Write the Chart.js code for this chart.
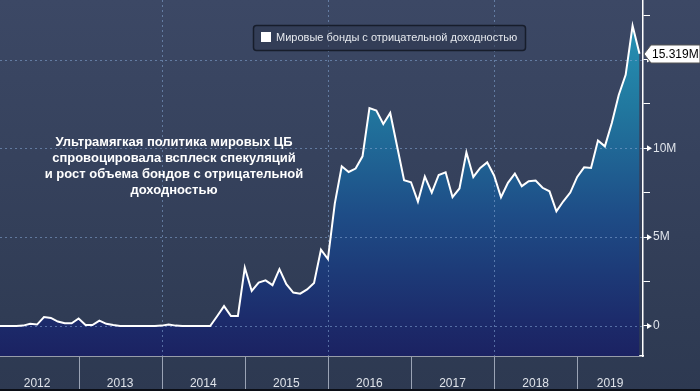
<!DOCTYPE html>
<html><head><meta charset="utf-8">
<script src="https://cdn.jsdelivr.net/npm/chart.js@4"></script>
<style>html,body{margin:0;padding:0;background:#333f58;overflow:hidden}canvas{display:block}</style>
</head><body>
<canvas id="c" width="700" height="391"></canvas>
<script>
// ---- data (month-end observations) ----
const months = [
  '2011-12',
  '2012-01','2012-02','2012-03','2012-04','2012-05','2012-06','2012-07','2012-08','2012-09','2012-10','2012-11','2012-12',
  '2013-01','2013-02','2013-03','2013-04','2013-05','2013-06','2013-07','2013-08','2013-09','2013-10','2013-11','2013-12',
  '2014-01','2014-02','2014-03','2014-04','2014-05','2014-06','2014-07','2014-08','2014-09','2014-10','2014-11','2014-12',
  '2015-01','2015-02','2015-03','2015-04','2015-05','2015-06','2015-07','2015-08','2015-09','2015-10','2015-11','2015-12',
  '2016-01','2016-02','2016-03','2016-04','2016-05','2016-06','2016-07','2016-08','2016-09','2016-10','2016-11','2016-12',
  '2017-01','2017-02','2017-03','2017-04','2017-05','2017-06','2017-07','2017-08','2017-09','2017-10','2017-11','2017-12',
  '2018-01','2018-02','2018-03','2018-04','2018-05','2018-06','2018-07','2018-08','2018-09','2018-10','2018-11','2018-12',
  '2019-01','2019-02','2019-03','2019-04','2019-05','2019-06','2019-07','2019-08','2019-09'
];
const negYieldBonds = [
  0,
  0, 0, 0, 0.02, 0.12, 0.08, 0.5, 0.45, 0.25, 0.15, 0.15, 0.42,
  0.05, 0.05, 0.3, 0.12, 0.05, 0, 0, 0, 0, 0, 0, 0.02,
  0.08, 0.02, 0, 0, 0, 0, 0, 0.55, 1.12, 0.56, 0.56, 3.28,
  1.97, 2.44, 2.57, 2.3, 3.2, 2.35, 1.88, 1.82, 2.06, 2.42, 4.3, 3.77,
  6.9, 8.99, 8.67, 8.86, 9.55, 12.27, 12.13, 11.37, 11.99, 10.1, 8.2, 8.09,
  7.0, 8.41, 7.51, 8.5, 8.65, 7.25, 7.74, 9.78, 8.39, 8.9, 9.21, 8.47,
  7.25, 8.06, 8.58, 7.87, 8.15, 8.19, 7.78, 7.58, 6.45, 7.02, 7.51, 8.39,
  8.93, 8.9, 10.44, 10.11, 11.43, 13.0, 14.14, 16.9, 15.319
];
const yearLabels = ['2012','2013','2014','2015','2016','2017','2018','2019'];
const yTickValues = [0, 2.5, 5, 7.5, 10, 12.5, 15, 17.5];
const yLabelledTicks = [0, 5, 10, 15];
const seriesLabel = 'Мировые бонды с отрицательной доходностью';
const noteLines = [
  'Ультрамягкая политика мировых ЦБ',
  'спровоцировала всплеск спекуляций',
  'и рост объема бондов с отрицательной',
  'доходностью'
];

// ---- layout / style ----
const X_MIN = 2012.054, X_MAX = 2019.792;
const Y_MIN = -1.69, Y_MAX = 18.35;
const FONT = '"Liberation Sans", Arial, sans-serif';
const TEXT_COL = '#dfe3ea';

const toX = m => { const p = m.split('-').map(Number); return p[0] + p[1] / 12; };
const points = months.map((m, i) => ({ x: toX(m), y: negYieldBonds[i] }));
const yearTickPos = yearLabels.map((y, i) => {
  const s = Number(y);
  return i === yearLabels.length - 1 ? (s + X_MAX) / 2 : s + 0.5;
});

function fillGradient(ctx) {
  const chart = ctx.chart, a = chart.chartArea;
  if (!a) return 'rgba(0,0,0,0)';
  const g = chart.ctx.createLinearGradient(0, a.top, 0, a.bottom);
  g.addColorStop(0, '#2899ba');
  g.addColorStop(0.3, '#21789f');
  g.addColorStop(0.6, '#1e4d87');
  g.addColorStop(0.9, '#1c2b6b');
  g.addColorStop(1, '#1b2262');
  return g;
}

const overlay = {
  id: 'overlay',
  beforeDraw(chart) {
    const c = chart.ctx, W = chart.width, H = chart.height;
    const g = c.createLinearGradient(0, 0, 0, H);
    g.addColorStop(0, '#3c4865');
    g.addColorStop(1, '#2d3951');
    c.save(); c.fillStyle = g; c.fillRect(0, 0, W, H); c.restore();
  },
  afterDatasetDraw(chart, args) {
    if (args.index !== 0) return;
    const c = chart.ctx, a = chart.chartArea;
    const xs = chart.scales.x, ys = chart.scales.y;
    c.save();
    c.strokeStyle = 'rgba(135,170,215,0.55)';
    c.lineWidth = 1;
    c.setLineDash([2, 3]);
    yLabelledTicks.forEach(v => {
      const py = Math.round(ys.getPixelForValue(v)) + 0.5;
      c.beginPath(); c.moveTo(a.left, py); c.lineTo(a.right, py); c.stroke();
    });
    yearLabels.map(Number).filter(y => y % 2 === 0 && y > X_MIN).forEach(y => {
      const px = Math.round(xs.getPixelForValue(y)) + 0.5;
      c.beginPath(); c.moveTo(px, a.top); c.lineTo(px, a.bottom); c.stroke();
    });
    c.restore();
  },
  afterDraw(chart) {
    const c = chart.ctx, a = chart.chartArea, H = chart.height;
    const xs = chart.scales.x, ys = chart.scales.y;
    c.save();
    // year separators under the axis
    c.strokeStyle = '#9aa3b5'; c.lineWidth = 1;
    yearLabels.map(Number).forEach(y => {
      const px = Math.round(xs.getPixelForValue(y)) + 0.5;
      if (px < a.left || px > a.right) return;
      c.beginPath(); c.moveTo(px, a.bottom + 1); c.lineTo(px, H); c.stroke();
    });
    // arrow heads on labelled y ticks
    c.fillStyle = '#ffffff';
    yLabelledTicks.forEach(v => {
      const py = ys.getPixelForValue(v);
      c.beginPath(); c.moveTo(a.right + 4, py - 3); c.lineTo(a.right + 9, py); c.lineTo(a.right + 4, py + 3); c.closePath(); c.fill();
    });
    // legend
    const lx = 253.5, ly = 25.5, lw = 272, lh = 25, r = 3;
    c.beginPath();
    c.moveTo(lx + r, ly); c.lineTo(lx + lw - r, ly); c.arcTo(lx + lw, ly, lx + lw, ly + r, r);
    c.lineTo(lx + lw, ly + lh - r); c.arcTo(lx + lw, ly + lh, lx + lw - r, ly + lh, r);
    c.lineTo(lx + r, ly + lh); c.arcTo(lx, ly + lh, lx, ly + lh - r, r);
    c.lineTo(lx, ly + r); c.arcTo(lx, ly, lx + r, ly, r); c.closePath();
    c.fillStyle = 'rgba(45,55,78,0.55)'; c.fill();
    c.strokeStyle = '#171d2b'; c.lineWidth = 1.5; c.stroke();
    c.fillStyle = '#ffffff'; c.fillRect(261, 32, 10, 10);
    c.fillStyle = '#e6e9ee'; c.font = '11px ' + FONT; c.textBaseline = 'middle'; c.textAlign = 'left';
    c.fillText(seriesLabel, 276, 38);
    // note
    c.fillStyle = '#ffffff'; c.font = 'bold 13px ' + FONT; c.textAlign = 'center';
    noteLines.forEach((t, i) => c.fillText(t, 174, 142 + i * 16));
    // last value label
    const last = negYieldBonds[negYieldBonds.length - 1];
    const py = Math.round(ys.getPixelForValue(last));
    const bx = a.right + 8;
    c.beginPath();
    c.moveTo(a.right + 1, py); c.lineTo(bx, py - 9); c.lineTo(chart.width, py - 9);
    c.lineTo(chart.width, py + 9); c.lineTo(bx, py + 9); c.closePath();
    c.fillStyle = '#ffffff'; c.fill();
    c.strokeStyle = '#555'; c.lineWidth = 1; c.stroke();
    c.fillStyle = '#000000'; c.font = '12px ' + FONT; c.textAlign = 'left';
    c.fillText(last.toFixed(3) + 'M', bx + 1, py + 1);
    // bottom dark strip
    c.fillStyle = '#0b0e16'; c.fillRect(0, H - 2, chart.width, 2);
    c.restore();
  }
};

new Chart(document.getElementById('c'), {
  type: 'line',
  data: {
    datasets: [
      { label: seriesLabel, data: points, borderWidth: 0, pointRadius: 0, fill: 'start',
        backgroundColor: fillGradient, tension: 0, order: 2 },
      { label: seriesLabel, data: points, borderColor: '#ffffff', borderWidth: 2, pointRadius: 0,
        fill: false, tension: 0, borderJoinStyle: 'miter', order: 1 }
    ]
  },
  options: {
    responsive: false, animation: false, devicePixelRatio: 1,
    layout: { padding: 0 },
    plugins: { legend: { display: false }, tooltip: { enabled: false } },
    scales: {
      x: {
        type: 'linear', min: X_MIN, max: X_MAX,
        afterBuildTicks: s => { s.ticks = yearTickPos.map(v => ({ value: v })); },
        afterFit: s => { s.height = 35; s.paddingLeft = 0; s.paddingRight = 0; },
        grid: { display: false },
        border: { display: true, color: '#ffffff', width: 1.5 },
        ticks: {
          autoSkip: false, maxRotation: 0, padding: 12, color: TEXT_COL,
          font: { family: FONT, size: 12 },
          callback: (v, i) => yearLabels[i]
        }
      },
      y: {
        type: 'linear', position: 'right', min: Y_MIN, max: Y_MAX,
        afterBuildTicks: s => { s.ticks = yTickValues.map(v => ({ value: v })); },
        afterFit: s => { s.width = 57; s.paddingTop = 0; s.paddingBottom = 0; },
        grid: { display: true, drawOnChartArea: false, drawTicks: true, tickLength: 7,
                tickColor: '#ffffff', tickWidth: 1, color: 'rgba(0,0,0,0)' },
        border: { display: true, color: '#ffffff', width: 1.5 },
        ticks: {
          padding: 3, color: TEXT_COL, font: { family: FONT, size: 12 },
          callback: v => yLabelledTicks.includes(v) ? (v === 0 ? '0' : v + 'M') : ''
        }
      }
    }
  },
  plugins: [overlay]
});
</script>
</body></html>
